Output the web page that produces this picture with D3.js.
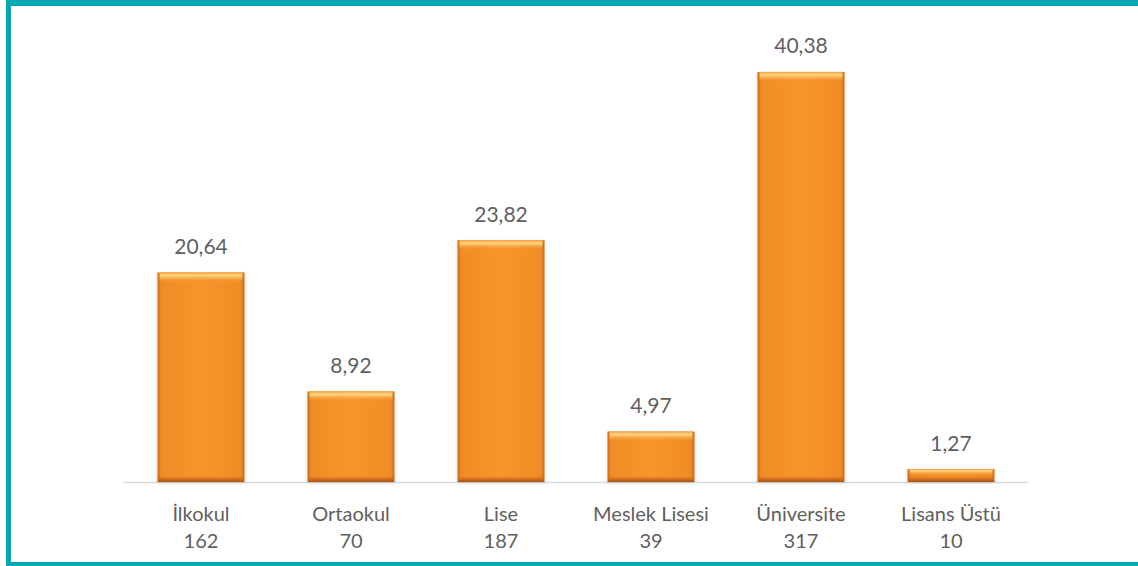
<!DOCTYPE html>
<html>
<head>
<meta charset="utf-8">
<script src="https://cdn.jsdelivr.net/npm/d3@7"></script>
<style>
  html, body { margin: 0; padding: 0; background: #fff; }
  svg { display: block; }
  text { font-family: Lato, "Open Sans", sans-serif; fill: #5f5f5f; }
</style>
</head>
<body>
<svg id="chart" width="1138" height="566"></svg>
<script>
const categories = ["İlkokul", "Ortaokul", "Lise", "Meslek Lisesi", "Üniversite", "Lisans Üstü"];
const percentages = [20.64, 8.92, 23.82, 4.97, 40.38, 1.27];
const counts = [162, 70, 187, 39, 317, 10];

(function () {
const W = 1138, H = 566;
const svg = d3.select("#chart");

// frame
const teal = "#05a8b3";
svg.append("rect").attr("x", 6).attr("y", 0).attr("width", W - 6).attr("height", 6).attr("fill", teal);
svg.append("rect").attr("x", 6).attr("y", 0).attr("width", 5).attr("height", H).attr("fill", teal);
svg.append("rect").attr("x", 6).attr("y", 562).attr("width", W - 6).attr("height", 4).attr("fill", teal);

const baseY = 482;
const x = d3.scaleBand().domain(categories).range([126, 1026]).paddingInner(0.42).paddingOuter(0.21);
const y = d3.scaleLinear().domain([0, 45]).range([baseY, baseY - 45 * 10.155]);

const defs = svg.append("defs");
const sideG = defs.append("linearGradient").attr("id", "side").attr("x1", 0).attr("x2", 1).attr("y1", 0).attr("y2", 0);
[[0, "#c9691c"], [0.04, "#f08c25"], [0.5, "#f7952c"], [0.96, "#f08c25"], [1, "#c9691c"]]
  .forEach(([o, c]) => sideG.append("stop").attr("offset", o).attr("stop-color", c));
const topG = defs.append("linearGradient").attr("id", "topg").attr("x1", 0).attr("x2", 0).attr("y1", 0).attr("y2", 1);
[[0, "#f6a03a", 1], [0.3, "#fed685", 1], [1, "#f7952c", 0]]
  .forEach(([o, c, a]) => topG.append("stop").attr("offset", o).attr("stop-color", c).attr("stop-opacity", a));
const botG = defs.append("linearGradient").attr("id", "botg").attr("x1", 0).attr("x2", 0).attr("y1", 0).attr("y2", 1);
[[0, "#d06d1c", 0], [0.6, "#c4621a", 0.85], [1, "#a85017", 1]]
  .forEach(([o, c, a]) => botG.append("stop").attr("offset", o).attr("stop-color", c).attr("stop-opacity", a));
const shadow = defs.append("filter").attr("id", "sh").attr("x", "-10%").attr("y", "-10%").attr("width", "120%").attr("height", "120%");
shadow.append("feDropShadow").attr("dx", 0).attr("dy", 1).attr("stdDeviation", 1.5).attr("flood-color", "#000").attr("flood-opacity", 0.15);

// baseline
svg.append("line").attr("x1", 123).attr("x2", 1028).attr("y1", baseY + 0.5).attr("y2", baseY + 0.5)
  .attr("stroke", "#d9d9d9").attr("stroke-width", 1.5);

const data = categories.map((c, i) => ({ c, v: percentages[i], n: counts[i] }));
const g = svg.append("g");
const bars = g.selectAll("g.bar").data(data).join("g").attr("class", "bar");

bars.append("rect")
  .attr("x", d => x(d.c)).attr("y", d => y(d.v))
  .attr("width", x.bandwidth()).attr("height", d => baseY - y(d.v))
  .attr("fill", "url(#side)").attr("filter", "url(#sh)");
bars.append("rect")
  .attr("x", d => x(d.c) + 2).attr("y", d => y(d.v))
  .attr("width", x.bandwidth() - 4).attr("height", d => Math.min(10, (baseY - y(d.v)) / 2))
  .attr("fill", "url(#topg)");
bars.append("rect")
  .attr("x", d => x(d.c) + 1).attr("y", d => baseY - Math.min(6, (baseY - y(d.v)) / 2))
  .attr("width", x.bandwidth() - 2).attr("height", d => Math.min(6, (baseY - y(d.v)) / 2))
  .attr("fill", "url(#botg)");

const fmt = v => v.toFixed(2).replace(".", ",");
bars.append("text")
  .attr("x", d => x(d.c) + x.bandwidth() / 2).attr("y", d => y(d.v) - 18.5)
  .attr("text-anchor", "middle").attr("font-size", 21)
  .text(d => fmt(d.v));
bars.append("text")
  .attr("x", d => x(d.c) + x.bandwidth() / 2).attr("y", 521)
  .attr("text-anchor", "middle").attr("font-size", 20)
  .text(d => d.c);
bars.append("text")
  .attr("x", d => x(d.c) + x.bandwidth() / 2).attr("y", 548)
  .attr("text-anchor", "middle").attr("font-size", 20)
  .text(d => d.n);
})();
</script>
</body>
</html>
